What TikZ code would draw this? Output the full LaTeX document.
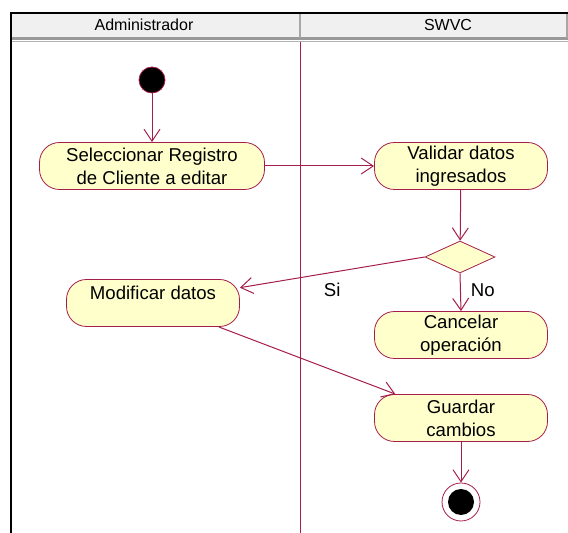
\documentclass[tikz,border=0pt]{standalone}
\usepackage{fontspec}
\setmainfont{Liberation Sans}
\usetikzlibrary{arrows.meta,shapes.geometric}
\definecolor{umlred}{RGB}{165,30,75}
\definecolor{umlfill}{RGB}{255,255,204}
\definecolor{headgray}{RGB}{240,240,240}

\begin{document}
\begin{tikzpicture}[x=0.5pt,y=-0.5pt]
\tikzstyle{every node}+=[inner sep=0pt]
\tikzstyle{activity}=[draw=umlred, fill=umlfill, rounded corners=10pt, minimum width=86.5pt, minimum height=23.5pt, align=center, font=\fontsize{9.3}{11.5}\selectfont]
\tikzstyle{decision}=[diamond, draw=umlred, fill=umlfill, minimum width=35pt, minimum height=16pt]
\tikzstyle{flow}=[draw=umlred, line width=0.5pt, -{Straight Barb[length=6pt,width=8pt]}]
\tikzstyle{lanehead}=[font=\fontsize{8}{9.6}\selectfont]
\tikzstyle{guard}=[font=\fontsize{9.3}{11.5}\selectfont]
\useasboundingbox (0,0) rectangle (568,533);
% swimlanes
\fill[headgray] (11,13) rectangle (568,38);
\draw[gray!80, line width=1.2pt] (11,38.5) -- (568,38.5);
\draw[gray!60, line width=0.8pt] (11,41.5) -- (568,41.5);
\draw[gray!70, line width=0.8pt] (300,13) -- (300,38);
\draw[gray!70, line width=0.6pt] (567,13) -- (567,38);
\draw[line width=1pt] (11,533) -- (11,13) -- (568,13);
\draw[umlred, line width=0.4pt] (300,42) -- (300,533);
\node[lanehead] (admin) at (144,25) {Administrador};
\node[lanehead] (swvc) at (448,25) {SWVC};

% actividades
\node[circle, fill=black, draw=umlred, minimum size=13pt] (inicio) at (152,80) {};
\node[activity, minimum width=112.5pt] (sel) at (152,166) {Seleccionar Registro\\de Cliente a editar};
\node[activity] (val) at (461,166) {Validar datos\\ingresados};
\node[decision] (dec) at (460,257) {};
\node[activity] (mod) at (153,303) {\raisebox{5pt}[\height][\depth]{Modificar datos}};
\node[activity] (can) at (461,335) {Cancelar\\operación};
\node[activity] (gua) at (461,418) {Guardar\\cambios};
\node[circle, draw=umlred, fill=white, minimum size=19pt] (fin) at (461,502) {};
\fill[black] (fin) circle (6.5pt);

% transiciones
\draw[flow] (inicio) -- (sel);
\draw[flow] (sel) -- (val);
\draw[flow] (val) -- (dec);
\draw[flow] (dec.west) -- (mod.10) node[guard, pos=0.5, below=5pt] {Si};
\draw[flow] (dec.south) -- (can.north) node[guard, pos=0.45, right=5pt] {No};
\draw[flow] (mod.-20) -- (gua.160);
\draw[flow] (gua) -- (fin);
\end{tikzpicture}
\end{document}
